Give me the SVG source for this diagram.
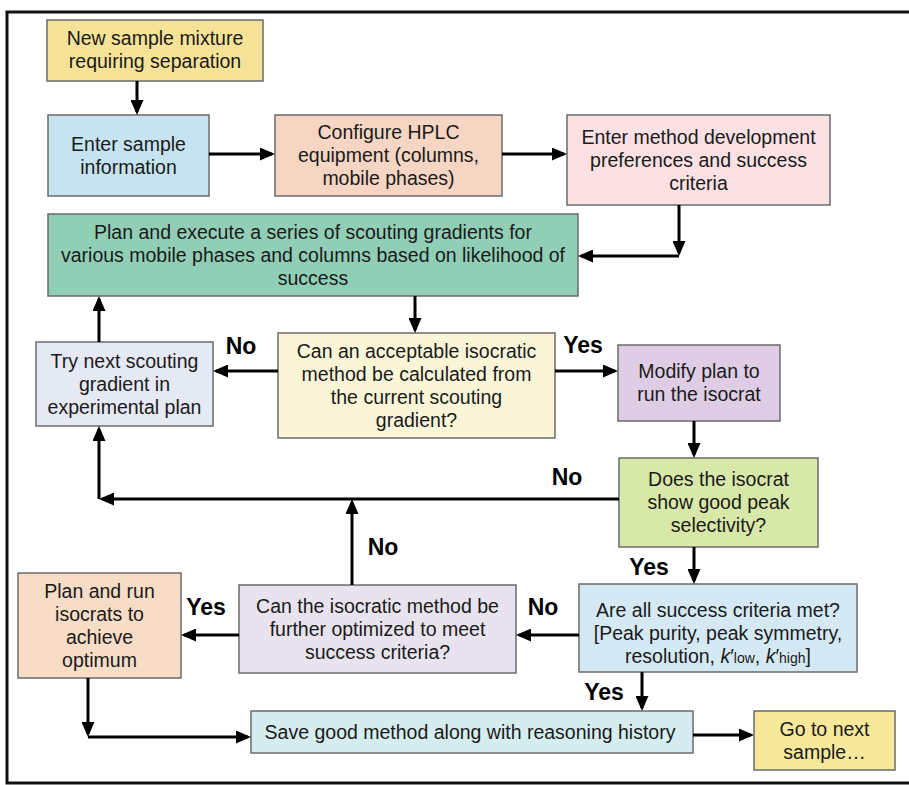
<svg xmlns="http://www.w3.org/2000/svg" width="909" height="785" viewBox="0 0 909 785">
<defs>
<marker id="ah" markerUnits="userSpaceOnUse" markerWidth="15" markerHeight="13" refX="12" refY="6.5" orient="auto">
<path d="M0,0 L15,6.5 L0,13 z" fill="#000"/>
</marker>
<style>
.box{stroke:#6b6b6b;stroke-width:1.5}
.t{font-family:"Liberation Sans",Arial,sans-serif;font-size:19.5px;fill:#1a1a1a;text-anchor:middle}
.lbl{font-family:"Liberation Sans",Arial,sans-serif;font-size:23px;font-weight:bold;fill:#000;text-anchor:middle}
.c{fill:none;stroke:#000;stroke-width:3;marker-end:url(#ah)}
.frame{fill:none;stroke:#111;stroke-width:3}
</style>
</defs>
<rect width="909" height="785" fill="#fff"/>
<path class="frame" d="M909,12 H7 V783 H909"/>

<g id="n1"><rect class="box" x="47" y="20" width="216" height="61" fill="#f6e397"/>
<text class="t"><tspan x="155" y="45.2">New sample mixture</tspan><tspan x="155" y="68.2">requiring separation</tspan></text></g>

<g id="n2"><rect class="box" x="48" y="115" width="161" height="81" fill="#c6e3f1"/>
<text class="t"><tspan x="128.5" y="150.6">Enter sample</tspan><tspan x="128.5" y="173.6">information</tspan></text></g>

<g id="n3"><rect class="box" x="275" y="115" width="227" height="81" fill="#f6d6c2"/>
<text class="t"><tspan x="388.5" y="139.2">Configure HPLC</tspan><tspan x="388.5" y="162.2">equipment (columns,</tspan><tspan x="388.5" y="185.2">mobile phases)</tspan></text></g>

<g id="n4"><rect class="box" x="567" y="115" width="263" height="90" fill="#fbe1e4"/>
<text class="t"><tspan x="698.5" y="143.7">Enter method development</tspan><tspan x="698.5" y="166.7">preferences and success</tspan><tspan x="698.5" y="189.7">criteria</tspan></text></g>

<g id="n5"><rect class="box" x="48" y="214" width="530" height="82" fill="#90cfb6"/>
<text class="t"><tspan x="313" y="238.7">Plan and execute a series of scouting gradients for</tspan><tspan x="313" y="261.7">various mobile phases and columns based on likelihood of</tspan><tspan x="313" y="284.7">success</tspan></text></g>

<g id="n6"><rect class="box" x="36" y="342" width="177" height="84" fill="#e5e9f4"/>
<text class="t"><tspan x="124.5" y="367.7">Try next scouting</tspan><tspan x="124.5" y="390.7">gradient in</tspan><tspan x="124.5" y="413.7">experimental plan</tspan></text></g>

<g id="n7"><rect class="box" x="278" y="333" width="277" height="105" fill="#fbf5d8"/>
<text class="t"><tspan x="416.5" y="357.7">Can an acceptable isocratic</tspan><tspan x="416.5" y="380.7">method be calculated from</tspan><tspan x="416.5" y="403.7">the current scouting</tspan><tspan x="416.5" y="426.7">gradient?</tspan></text></g>

<g id="n8"><rect class="box" x="618" y="345" width="162" height="76" fill="#dfcde6"/>
<text class="t"><tspan x="699" y="378.2">Modify plan to</tspan><tspan x="699" y="401.2">run the isocrat</tspan></text></g>

<g id="n9"><rect class="box" x="619" y="458" width="199" height="89" fill="#d8e8a9"/>
<text class="t"><tspan x="718.5" y="486.2">Does the isocrat</tspan><tspan x="718.5" y="509.2">show good peak</tspan><tspan x="718.5" y="532.2">selectivity?</tspan></text></g>

<g id="n10"><rect class="box" x="18" y="573" width="163" height="105" fill="#f7dcc6"/>
<text class="t"><tspan x="99.5" y="597.7">Plan and run</tspan><tspan x="99.5" y="620.7">isocrats to</tspan><tspan x="99.5" y="643.7">achieve</tspan><tspan x="99.5" y="666.7">optimum</tspan></text></g>

<g id="n11"><rect class="box" x="239" y="585" width="277" height="88" fill="#e9e3f0"/>
<text class="t"><tspan x="377.5" y="612.7">Can the isocratic method be</tspan><tspan x="377.5" y="635.7">further optimized to meet</tspan><tspan x="377.5" y="658.7">success criteria?</tspan></text></g>

<g id="n12"><rect class="box" x="579" y="584" width="278" height="88" fill="#d5e9f4"/>
<text class="t"><tspan x="718" y="616.7">Are all success criteria met?</tspan><tspan x="718" y="639.7">[Peak purity, peak symmetry,</tspan><tspan x="718" y="662.7">resolution, <tspan font-style="italic">k</tspan>′<tspan font-size="14">low</tspan>, <tspan font-style="italic">k</tspan>′<tspan font-size="14">high</tspan>]</tspan></text></g>

<g id="n13"><rect class="box" x="251" y="711" width="442" height="42" fill="#d6edf0"/>
<text class="t"><tspan x="470" y="738.7">Save good method along with reasoning history</tspan></text></g>

<g id="n14"><rect class="box" x="754" y="711" width="141" height="59" fill="#f7e89a"/>
<text class="t"><tspan x="824.5" y="735.7">Go to next</tspan><tspan x="824.5" y="758.7">sample…</tspan></text></g>

<g id="connectors">
<path class="c" d="M137,81 V112"/>
<path class="c" d="M209,154 H272"/>
<path class="c" d="M502,154 H564"/>
<path class="c" d="M679,205 V253"/>
<path class="c" d="M679,256 H581"/>
<path class="c" d="M415,296 V330"/>
<path class="c" d="M278,371 H216"/>
<path class="c" d="M555,371 H615"/>
<path class="c" d="M99,342 V299"/>
<path class="c" d="M694,421 V455"/>
<path class="c" d="M619,499 H102"/>
<path class="c" d="M99,499 V429"/>
<path class="c" d="M352,585 V502"/>
<path class="c" d="M694,547 V581"/>
<path class="c" d="M579,635 H519"/>
<path class="c" d="M239,635 H184"/>
<path class="c" d="M642,672 V708"/>
<path class="c" d="M88,678 V734"/>
<path class="c" d="M88,737 H248"/>
<path class="c" d="M693,735 H751"/>
</g>

<g id="labels">
<text class="lbl" x="241" y="354">No</text>
<text class="lbl" x="583" y="353">Yes</text>
<text class="lbl" x="567" y="485">No</text>
<text class="lbl" x="383" y="555">No</text>
<text class="lbl" x="649" y="575">Yes</text>
<text class="lbl" x="206" y="615">Yes</text>
<text class="lbl" x="543" y="615">No</text>
<text class="lbl" x="604" y="700">Yes</text>
</g>
</svg>
